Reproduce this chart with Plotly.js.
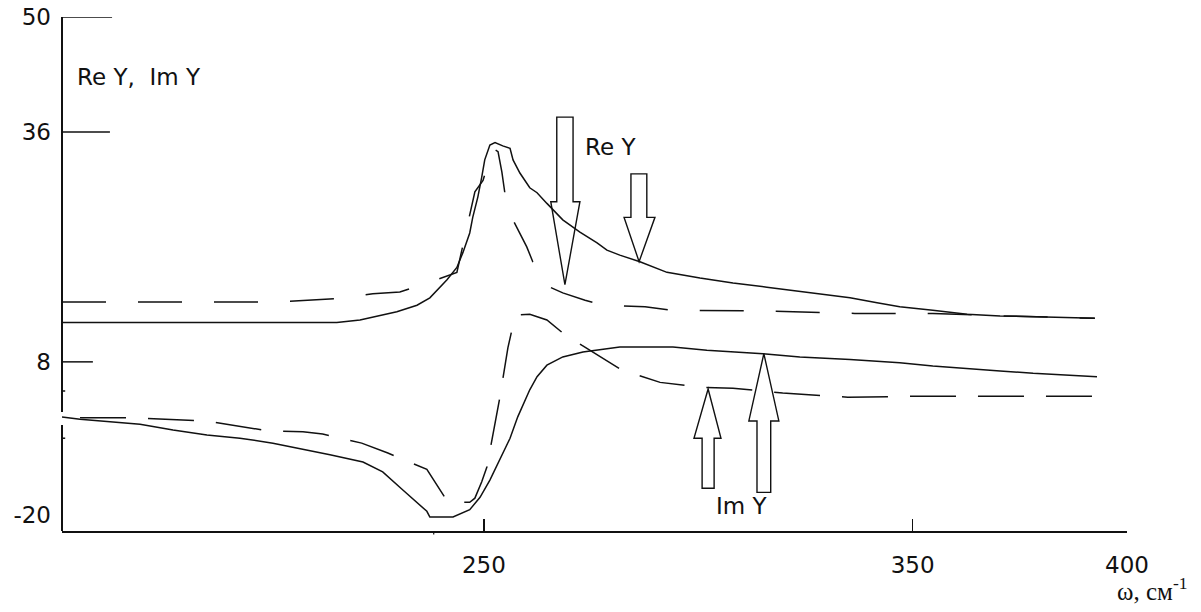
<!DOCTYPE html>
<html>
<head>
<meta charset="utf-8">
<script src="https://cdn.plot.ly/plotly-3.0.1.min.js"></script>
<style>html,body{margin:0;padding:0;background:#fff;}</style>
</head>
<body>
<div id="chart" style="width:1201px;height:612px;"></div>
<script>
// ---------- data ----------
const reSolidW = [151.6,177.5,215.7,221.1,229.7,234.4,237.4,241.4,243.7,245.1,246.7,247.4,248.6,249.5,250.2,251.4,252.6,254.4,256.1,256.8,258.4,260.7,262.4,264.7,268.4,272.4,276.4,278.7,281.7,286.4,292.7,300.4,308.1,316.0,323.7,335.4,341.7,347.0,354.7,362.7,370.4,378.1,392.5];
const reSolidY = [12.8,12.8,12.8,13.1,14.1,14.9,15.8,18.0,19.5,21.3,23.7,25.6,28.1,30.5,32.6,34.4,34.7,34.3,34.0,32.6,31.0,29.2,28.6,27.3,25.3,23.8,22.5,21.6,21.0,20.2,18.9,18.2,17.6,17.1,16.6,15.8,15.2,14.7,14.3,13.8,13.6,13.5,13.3];

const reDashW = [151.6,178.6,202.4,216.0,224.1,230.4,237.4,243.7,247.9,249.8,252.1,253.3,254.2,255.4,257.2,260.0,261.4,263.1,265.4,268.4,273.6,277.8,287.6,293.4,315.5,336.5,354.7,370.4,392.5];
const reDashY = [15.3,15.3,15.3,15.7,16.3,16.5,17.7,18.9,28.7,30.1,34.0,33.6,31.1,26.7,24.9,22.0,20.2,18.2,17.1,16.4,15.5,14.9,14.7,14.3,14.2,13.9,13.9,13.6,13.3];

const imSolidW = [151.6,155.8,169.8,177.5,185.4,193.1,200.8,208.7,214.1,221.8,226.4,231.1,236.7,237.4,242.8,246.7,249.1,251.4,254.4,256.1,257.9,260.7,262.4,264.7,268.4,273.1,281.7,294.1,302.0,315.1,323.7,335.4,347.0,354.7,370.4,378.1,393.0];
const imSolidY = [1.3,1.0,0.4,-0.3,-0.9,-1.3,-1.9,-2.7,-3.3,-4.2,-5.4,-7.6,-10.2,-10.9,-10.9,-10.0,-8.5,-6.4,-3.1,-1.3,1.3,4.6,6.2,7.6,8.6,9.2,9.8,9.8,9.4,9.0,8.6,8.3,7.9,7.5,6.9,6.6,6.2];

const imDashW = [155.8,167.4,185.4,199.6,207.8,212.4,221.5,227.6,236.7,240.9,242.8,246.7,247.9,249.5,250.7,252.1,253.7,255.6,256.8,257.9,260.7,264.7,268.2,272.9,277.5,282.2,291.1,301.1,308.1,319.7,334.9,349.8,379.0,393.2];
const imDashY = [1.2,1.2,0.8,-0.4,-0.5,-0.8,-1.9,-3.1,-5.1,-8.5,-9.1,-9.1,-8.6,-6.6,-4.8,-0.9,3.6,9.7,12.5,13.7,13.8,13.1,11.6,10.0,8.5,7.0,5.5,4.9,4.8,4.2,3.7,3.8,3.8,3.8];

const xTickVals = [250, 350, 400];
const xTickText = ['250', '350', '400'];
const yTickVals = [50, 36, 8, -10.7];
const yTickText = ['50', '36', '8', '-20'];

// arrow markers: tip point and outline geometry in data units
const arrows = [
  {tipW: 268.9, tipY: 17.4, headY: 27.5, wingL: 265.6, wingR: 272.4, shaftL: 267.0, shaftR: 270.8, endY: 37.8},
  {tipW: 286.2, tipY: 20.2, headY: 25.6, wingL: 282.7, wingR: 289.9, shaftL: 284.3, shaftR: 288.0, endY: 30.9},
  {tipW: 302.3, tipY: 4.7, headY: -1.3, wingL: 299.0, wingR: 305.3, shaftL: 300.9, shaftR: 303.7, endY: -7.4},
  {tipW: 315.3, tipY: 9.0, headY: 0.8, wingL: 311.8, wingR: 318.8, shaftL: 313.7, shaftR: 316.9, endY: -7.9}
];

// ---------- styling ----------
const ink = '#111111';
const lineW = 1.5;

const traces = [
  {x: reSolidW, y: reSolidY, mode: 'lines', line: {color: ink, width: lineW}, name: 'Re Y'},
  {x: reDashW, y: reDashY, mode: 'lines', line: {color: ink, width: lineW, dash: '44px,32px'}, name: 'Re Y (dashed)'},
  {x: imSolidW, y: imSolidY, mode: 'lines', line: {color: ink, width: lineW}, name: 'Im Y'},
  {x: imDashW, y: imDashY, mode: 'lines', line: {color: ink, width: lineW, dash: '46px,22px'}, name: 'Im Y (dashed)'}
];

const shapes = [];
arrows.forEach(a => {
  const p = `M${a.shaftL},${a.endY} L${a.shaftR},${a.endY} L${a.shaftR},${a.headY} L${a.wingR},${a.headY} L${a.tipW},${a.tipY} L${a.wingL},${a.headY} L${a.shaftL},${a.headY} Z`;
  shapes.push({type: 'path', xref: 'x', yref: 'y', path: p, line: {color: ink, width: 1.4}, fillcolor: 'rgba(0,0,0,0)', layer: 'above'});
});
// y axis line (with the small gap where the Im curves start)
shapes.push({type: 'line', xref: 'paper', yref: 'y', x0: 0, x1: 0, y0: 50, y1: 1.9, line: {color: ink, width: 2}});
shapes.push({type: 'line', xref: 'paper', yref: 'y', x0: 0, x1: 0, y0: 0.3, y1: -12.6, line: {color: ink, width: 2}});
// long inner y ticks
const yTickLens = [0.047, 0.045, 0.029];
[50, 36, 8].forEach((v, i) => {
  shapes.push({type: 'line', xref: 'paper', yref: 'y', x0: 0, x1: yTickLens[i], y0: v, y1: v, line: {color: ink, width: 1.5}});
});
// small minor ticks on the y axis
[4.45, -1.3].forEach(v => {
  shapes.push({type: 'line', xref: 'paper', yref: 'y', x0: 0, x1: 0.003, y0: v, y1: v, line: {color: ink, width: 1.5}});
});
// small tick below x axis
shapes.push({type: 'line', xref: 'x', yref: 'paper', x0: 238.3, x1: 238.3, y0: 0, y1: -0.007, line: {color: ink, width: 1.2}});

const labelFont = {family: 'DejaVu Sans, Arial, sans-serif', size: 23, color: '#111'};
const textFont = {family: 'DejaVu Sans, Arial, sans-serif', size: 23, color: '#111'};

const layout = {
  width: 1201, height: 612,
  margin: {l: 62, r: 74, t: 17, b: 81},
  paper_bgcolor: '#ffffff', plot_bgcolor: '#ffffff',
  showlegend: false,
  xaxis: {
    range: [151.6, 400], showgrid: false, zeroline: false,
    showline: true, linecolor: ink, linewidth: 2,
    tickmode: 'array', tickvals: xTickVals, ticktext: xTickText,
    ticks: 'inside', ticklen: 12, tickwidth: 1.5, tickcolor: ink,
    tickfont: labelFont, ticklabelstandoff: 12
  },
  yaxis: {
    range: [-12.6, 50], showgrid: false, zeroline: false,
    showline: false,
    tickmode: 'array', tickvals: yTickVals, ticktext: yTickText,
    ticks: '', tickfont: labelFont, ticklabelstandoff: 10
  },
  shapes: shapes,
  annotations: [
    {xref: 'paper', yref: 'paper', x: 0.012, y: 0.883, xanchor: 'left', yanchor: 'middle', showarrow: false,
     text: 'Re Y,\u00A0 Im Y', font: textFont},
    {xref: 'x', yref: 'y', x: 279.6, y: 34.2, xanchor: 'center', yanchor: 'middle', showarrow: false,
     text: 'Re Y', font: textFont},
    {xref: 'x', yref: 'y', x: 310.0, y: -9.6, xanchor: 'center', yanchor: 'middle', showarrow: false,
     text: 'Im Y', font: textFont},
    {xref: 'paper', yref: 'paper', x: 1.058, y: -0.113, xanchor: 'right', yanchor: 'middle', showarrow: false,
     text: 'ω, см<sup>-1</sup>', font: {family: 'Liberation Serif, Times New Roman, serif', size: 25, color: '#111'}}
  ]
};

Plotly.newPlot('chart', traces, layout, {displayModeBar: false, staticPlot: true});
</script>
</body>
</html>
